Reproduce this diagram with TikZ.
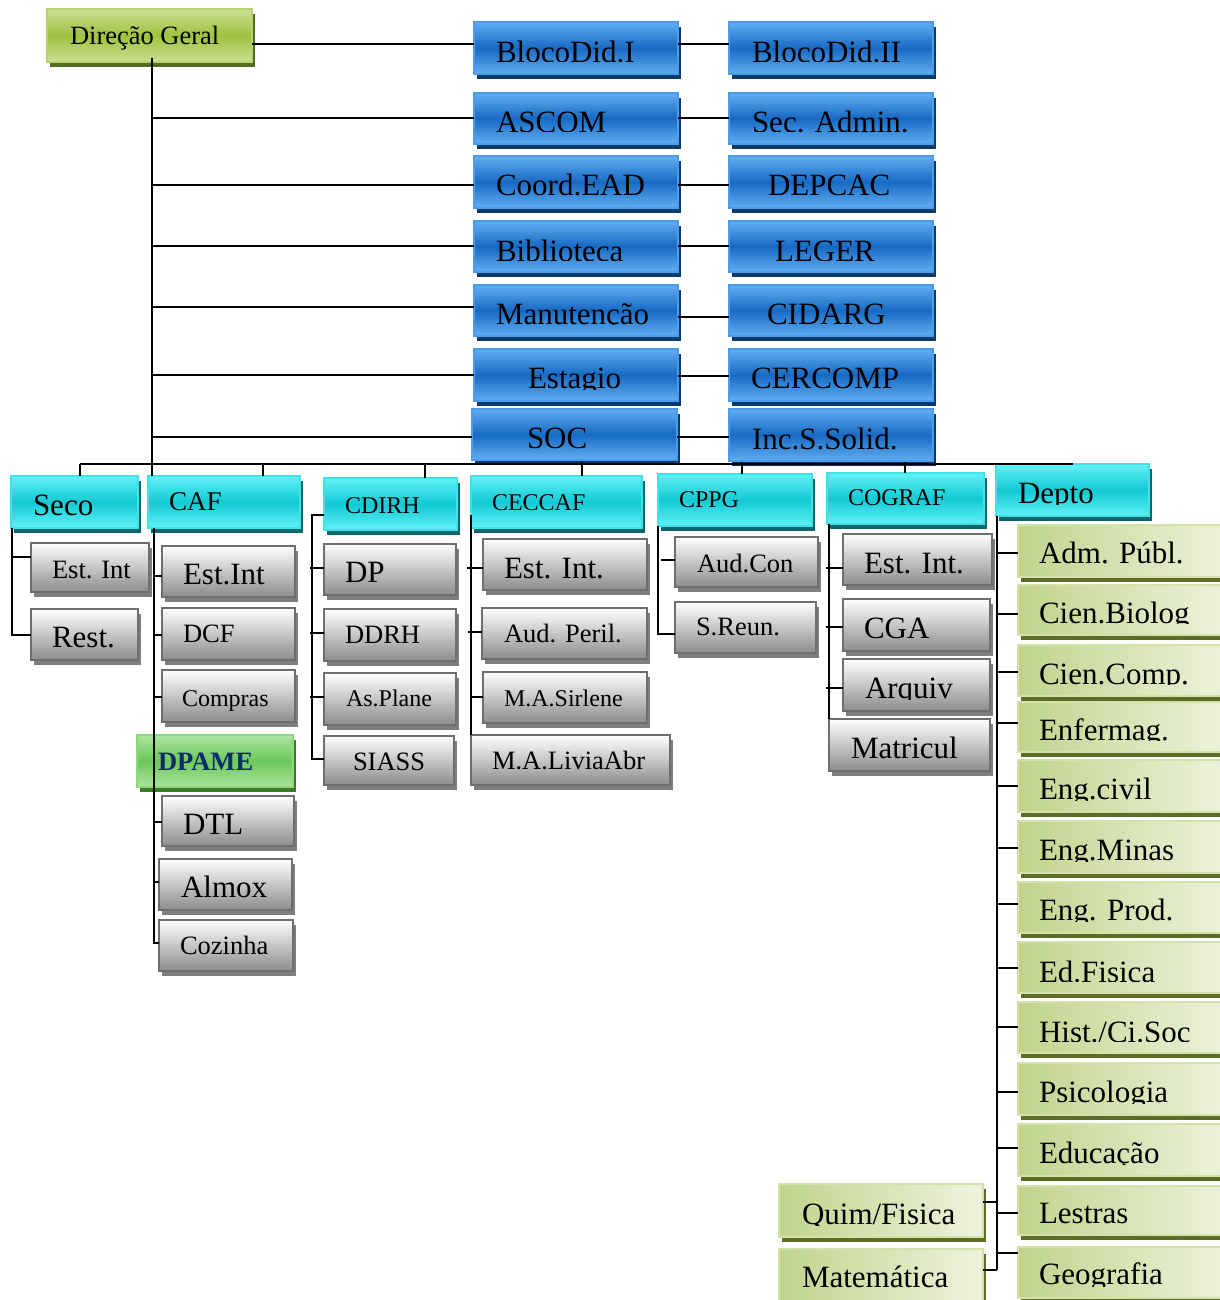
\documentclass[tikz,border=0pt]{standalone}
\usepackage{fontspec}
\setmainfont{Liberation Serif}
\definecolor{blueL}{HTML}{62AEF2}
\definecolor{blueD}{HTML}{176AC4}
\definecolor{blueBd}{HTML}{4B9CEA}
\definecolor{blueSh}{HTML}{0B3A6E}
\definecolor{cyanL}{HTML}{62F2F6}
\definecolor{cyanD}{HTML}{12C9D4}
\definecolor{cyanBd}{HTML}{40E2EA}
\definecolor{cyanSh}{HTML}{0D666B}
\definecolor{grayBot}{HTML}{8C8C8C}
\definecolor{grayBd}{HTML}{6E6E6E}
\definecolor{graySh}{HTML}{7E7E7E}
\definecolor{dgL}{HTML}{CBE096}
\definecolor{dgD}{HTML}{9EC23E}
\definecolor{dgBd}{HTML}{B6D26E}
\definecolor{dgSh}{HTML}{55691F}
\definecolor{dpL}{HTML}{ACE49E}
\definecolor{dpD}{HTML}{6CC85A}
\definecolor{dpBd}{HTML}{8FD77F}
\definecolor{dpSh}{HTML}{3B7A2A}
\definecolor{dpTxt}{HTML}{0B2B6B}
\definecolor{depL}{HTML}{C0D48C}
\definecolor{depR}{HTML}{EEF3DD}
\definecolor{depBd}{HTML}{D3E1AA}
\definecolor{depSh}{HTML}{5C6D28}
\newcommand{\fL}{\fontsize{31}{34}\selectfont}
\newcommand{\fC}{\fontsize{27}{30}\selectfont}
\newcommand{\fM}{\fontsize{26.5}{29}\selectfont}
\newcommand{\fS}{\fontsize{24}{27}\selectfont}
\newcommand{\obox}[9]{%
  \fill[#1sh] (#3+3,#4+5) rectangle (#5+3,#6+5);
  \node[boxbase, #1box, anchor=north west, minimum width={(#5-#3)*1pt}, minimum height={(#6-#4)*1pt}] (#2) at (#3,#4) {};
  \begin{scope}
    \clip (#3,#4) rectangle (#5,#6-12);
    \node[anchor=base west, inner sep=0pt, outer sep=0pt] at (#7,#8) {#9};
  \end{scope}}
\tikzset{
  boxbase/.style={rectangle, inner sep=0pt, outer sep=0pt},
  bluebox/.style={draw=blueBd, line width=1.3pt, top color=blueL, bottom color=blueL, middle color=blueD},
  bluesh/.style={fill=blueSh},
  cyanbox/.style={draw=cyanBd, line width=1.3pt, top color=cyanL, bottom color=cyanL, middle color=cyanD},
  cyansh/.style={fill=cyanSh},
  graybox/.style={draw=grayBd, line width=1.8pt, top color=white, bottom color=grayBot},
  graysh/.style={fill=graySh},
  dgbox/.style={draw=dgBd, line width=1.3pt, top color=dgL, bottom color=dgL, middle color=dgD},
  dgsh/.style={fill=dgSh},
  dpbox/.style={draw=dpBd, line width=1.3pt, top color=dpL, bottom color=dpL, middle color=dpD},
  dpsh/.style={fill=dpSh},
  depbox/.style={draw=depBd, line width=1.3pt, left color=depL, right color=depR},
  depsh/.style={fill=depSh},
  conn/.style={draw=black, line width=1.4pt}
}
\begin{document}
\begin{tikzpicture}[x=1pt,y=-1pt]
\useasboundingbox (0,0) rectangle (1219,1300);
% top
\obox{dg}{dg}{47}{9}{252}{62}{70}{45}{\fM Direção Geral}
% blue left
\obox{blue}{b1}{474}{22}{678}{74}{496}{63}{\fL BlocoDid.I}
\obox{blue}{b2}{474}{93}{678}{144}{496}{133}{\fL ASCOM}
\obox{blue}{b3}{474}{156}{678}{208}{496}{195}{\fL Coord.EAD}
\obox{blue}{b4}{474}{221}{678}{272}{496}{261}{\fL Biblioteca}
\obox{blue}{b5}{474}{285}{678}{336}{496}{324}{\fL Manutenção}
\obox{blue}{b6}{474}{349}{678}{401}{528}{388}{\fL Estagio}
\obox{blue}{b7}{472}{409}{677}{460}{527}{448}{\fL SOC}
% blue right
\obox{blue}{c1}{729}{22}{933}{74}{752}{63}{\fL BlocoDid.II}
\obox{blue}{c2}{729}{93}{933}{144}{752}{133}{\fL Sec. Admin.}
\obox{blue}{c3}{729}{156}{933}{208}{768}{195}{\fL DEPCAC}
\obox{blue}{c4}{729}{221}{933}{272}{775}{261}{\fL LEGER}
\obox{blue}{c5}{729}{285}{933}{336}{767}{324}{\fL CIDARG}
\obox{blue}{c6}{729}{349}{933}{401}{751}{388}{\fL CERCOMP}
\obox{blue}{c7}{729}{409}{933}{461}{752}{449}{\fL Inc.S.Solid.}
% cyan
\obox{cyan}{seco}{11}{476}{138}{528}{33}{515}{\fL Seco}
\obox{cyan}{caf}{148}{476}{300}{528}{169}{510}{\fC CAF}
\obox{cyan}{cdirh}{324}{478}{457}{530}{345}{513}{\fS CDIRH}
\obox{cyan}{ceccaf}{471}{476}{642}{528}{492}{510}{\fS CECCAF}
\obox{cyan}{cppg}{658}{474}{812}{526}{679}{507}{\fS CPPG}
\obox{cyan}{cograf}{827}{473}{984}{524}{848}{505}{\fS COGRAF}
\obox{cyan}{depto}{996}{464}{1149}{516}{1018}{503}{\fL Depto}
% seco children
\obox{gray}{se1}{31}{543}{149}{592}{52}{578}{\fM Est. Int}
\obox{gray}{se2}{31}{609}{138}{660}{52}{647}{\fL Rest.}
% caf children
\obox{gray}{ca1}{162}{546}{295}{597}{183}{584}{\fL Est.Int}
\obox{gray}{ca2}{162}{608}{295}{660}{183}{642}{\fM DCF}
\obox{gray}{ca3}{162}{670}{295}{722}{182}{706}{\fS Compras}
\obox{dp}{dpame}{137}{735}{293}{787}{158}{770}{\fM\bfseries\color{dpTxt}DPAME}
\obox{gray}{ca5}{162}{796}{294}{846}{183}{834}{\fL DTL}
\obox{gray}{ca6}{159}{859}{292}{910}{181}{897}{\fL Almox}
\obox{gray}{ca7}{159}{920}{293}{971}{180}{954}{\fM Cozinha}
% cdirh children
\obox{gray}{cd1}{324}{544}{456}{595}{345}{582}{\fL DP}
\obox{gray}{cd2}{324}{609}{456}{661}{345}{643}{\fM DDRH}
\obox{gray}{cd3}{324}{673}{456}{725}{346}{706}{\fS As.Plane}
\obox{gray}{cd4}{324}{736}{454}{785}{353}{770}{\fM SIASS}
% ceccaf children
\obox{gray}{ce1}{483}{539}{647}{590}{504}{578}{\fL Est. Int.}
\obox{gray}{ce2}{482}{608}{647}{659}{504}{642}{\fM Aud. Peril.}
\obox{gray}{ce3}{483}{672}{647}{723}{504}{706}{\fS M.A.Sirlene}
\obox{gray}{ce4}{471}{735}{670}{785}{492}{769}{\fM M.A.LiviaAbr}
% cppg children
\obox{gray}{cp1}{675}{537}{818}{587}{697}{572}{\fM Aud.Con}
\obox{gray}{cp2}{675}{602}{816}{653}{696}{635}{\fM S.Reun.}
% cograf children
\obox{gray}{co1}{843}{534}{992}{585}{864}{573}{\fL Est. Int.}
\obox{gray}{co2}{843}{599}{990}{651}{864}{638}{\fL CGA}
\obox{gray}{co3}{843}{659}{990}{711}{865}{698}{\fL Arquiv}
\obox{gray}{co4}{829}{719}{990}{771}{851}{758}{\fL Matricul}
% depto children
\obox{dep}{d1}{1018}{525}{1232}{577}{1039}{563}{\fL Adm. Públ.}
\obox{dep}{d2}{1018}{585}{1232}{635}{1039}{623}{\fL Cien.Biolog}
\obox{dep}{d3}{1018}{645}{1232}{696}{1039}{684}{\fL Cien.Comp.}
\obox{dep}{d4}{1018}{702}{1232}{752}{1039}{740}{\fL Enfermag.}
\obox{dep}{d5}{1018}{760}{1232}{812}{1039}{799}{\fL Eng.civil}
\obox{dep}{d6}{1018}{821}{1232}{873}{1039}{860}{\fL Eng.Minas}
\obox{dep}{d7}{1018}{882}{1232}{933}{1039}{920}{\fL Eng. Prod.}
\obox{dep}{d8}{1018}{942}{1232}{993}{1039}{982}{\fL Ed.Fisica}
\obox{dep}{d9}{1018}{1002}{1232}{1053}{1039}{1042}{\fL Hist./Ci.Soc}
\obox{dep}{d10}{1018}{1063}{1232}{1115}{1039}{1102}{\fL Psicologia}
\obox{dep}{d11}{1018}{1124}{1232}{1176}{1039}{1163}{\fL Educação}
\obox{dep}{d12}{1018}{1186}{1232}{1235}{1039}{1223}{\fL Lestras}
\obox{dep}{d13}{1018}{1247}{1232}{1298}{1039}{1284}{\fL Geografia}
\obox{dep}{quim}{779}{1184}{983}{1237}{802}{1224}{\fL Quim/Fisica}
\obox{dep}{mat}{779}{1249}{983}{1312}{802}{1287}{\fL Matemática}
% ---------- connectors ----------
\coordinate (tk) at (152,58);
\draw[conn] (tk) -- (caf.north -| tk);
\draw[conn] (dg.east |- 0,44) -- (b1.west |- 0,44);
\draw[conn] (b1.east |- 0,44) -- (c1.west |- 0,44);
\draw[conn] (tk |- 0,118) -- (b2.west |- 0,118);
\draw[conn] (b2.east |- 0,118) -- (c2.west |- 0,118);
\draw[conn] (tk |- 0,185) -- (b3.west |- 0,185);
\draw[conn] (b3.east |- 0,185) -- (c3.west |- 0,185);
\draw[conn] (tk |- 0,246) -- (b4.west |- 0,246);
\draw[conn] (b4.east |- 0,246) -- (c4.west |- 0,246);
\draw[conn] (tk |- 0,307) -- (b5.west |- 0,307);
\draw[conn] (b5.east |- 0,317) -- (c5.west |- 0,317);
\draw[conn] (tk |- 0,375) -- (b6.west |- 0,375);
\draw[conn] (b6.east |- 0,376) -- (c6.west |- 0,376);
\draw[conn] (tk |- 0,437) -- (b7.west |- 0,437);
\draw[conn] (b7.east |- 0,437) -- (c7.west |- 0,437);
% bus
\coordinate (busL) at (80,464);
\coordinate (busR) at (1073,464);
\draw[conn] (busL) -- (busR);
\draw[conn] (busL) -- (seco.north -| busL);
\draw[conn] (263,464) -- (caf.north -| 263,0);
\draw[conn] (425,464) -- (cdirh.north -| 425,0);
\draw[conn] (582,462) -- (ceccaf.north -| 582,0);
\draw[conn] (742,462) -- (cppg.north -| 742,0);
\draw[conn] (905,462) -- (cograf.north -| 905,0);
% seco
\draw[conn] (seco.south -| 12,0) -- (12,635) -- (se2.west |- 0,635);
\draw[conn] (12,557) -- (se1.west |- 0,557);
% caf
\draw[conn] (caf.south -| 154,0) -- (154,943) -- (ca7.west |- 0,943);
\draw[conn] (154,576) -- (ca1.west |- 0,576);
\draw[conn] (154,635) -- (ca2.west |- 0,635);
\draw[conn] (154,697) -- (ca3.west |- 0,697);
\draw[conn] (154,822) -- (ca5.west |- 0,822);
\draw[conn] (154,882) -- (ca6.west |- 0,882);
% cdirh
\draw[conn] (cdirh.west |- 0,515) -- (312,515) -- (312,759) -- (cd4.west |- 0,759);
\draw[conn] (310,568) -- (cd1.west |- 0,568);
\draw[conn] (310,633) -- (cd2.west |- 0,633);
\draw[conn] (310,697) -- (cd3.west |- 0,697);
% ceccaf
\draw[conn] (471,515) -- (ce4.north -| 471,0);
\draw[conn] (467,568) -- (ce1.west |- 0,568);
\draw[conn] (468,632) -- (ce2.west |- 0,632);
\draw[conn] (471,697) -- (ce3.west |- 0,697);
% cppg
\draw[conn] (cppg.south -| 658,0) -- (658,634) -- (cp2.west |- 0,634);
\draw[conn] (661,560) -- (cp1.west |- 0,560);
% cograf
\draw[conn] (cograf.south -| 829,0) -- (co4.north -| 829,0);
\draw[conn] (826,568) -- (co1.west |- 0,568);
\draw[conn] (826,627) -- (co2.west |- 0,627);
\draw[conn] (826,688) -- (co3.west |- 0,688);
% depto
\draw[conn] (depto.south -| 997,0) -- (997,1270);
\draw[conn] (997,553) -- (d1.west |- 0,553);
\draw[conn] (997,614) -- (d2.west |- 0,614);
\draw[conn] (997,672) -- (d3.west |- 0,672);
\draw[conn] (997,723) -- (d4.west |- 0,723);
\draw[conn] (997,786) -- (d5.west |- 0,786);
\draw[conn] (997,848) -- (d6.west |- 0,848);
\draw[conn] (997,904) -- (d7.west |- 0,904);
\draw[conn] (997,968) -- (d8.west |- 0,968);
\draw[conn] (997,1027) -- (d9.west |- 0,1027);
\draw[conn] (997,1092) -- (d10.west |- 0,1092);
\draw[conn] (997,1148) -- (d11.west |- 0,1148);
\draw[conn] (997,1213) -- (d12.west |- 0,1213);
\draw[conn] (997,1253) -- (d13.west |- 0,1253);
\draw[conn] (quim.east |- 0,1202) -- (997,1202);
\draw[conn] (mat.east |- 0,1270) -- (997,1270);
\end{tikzpicture}
\end{document}
